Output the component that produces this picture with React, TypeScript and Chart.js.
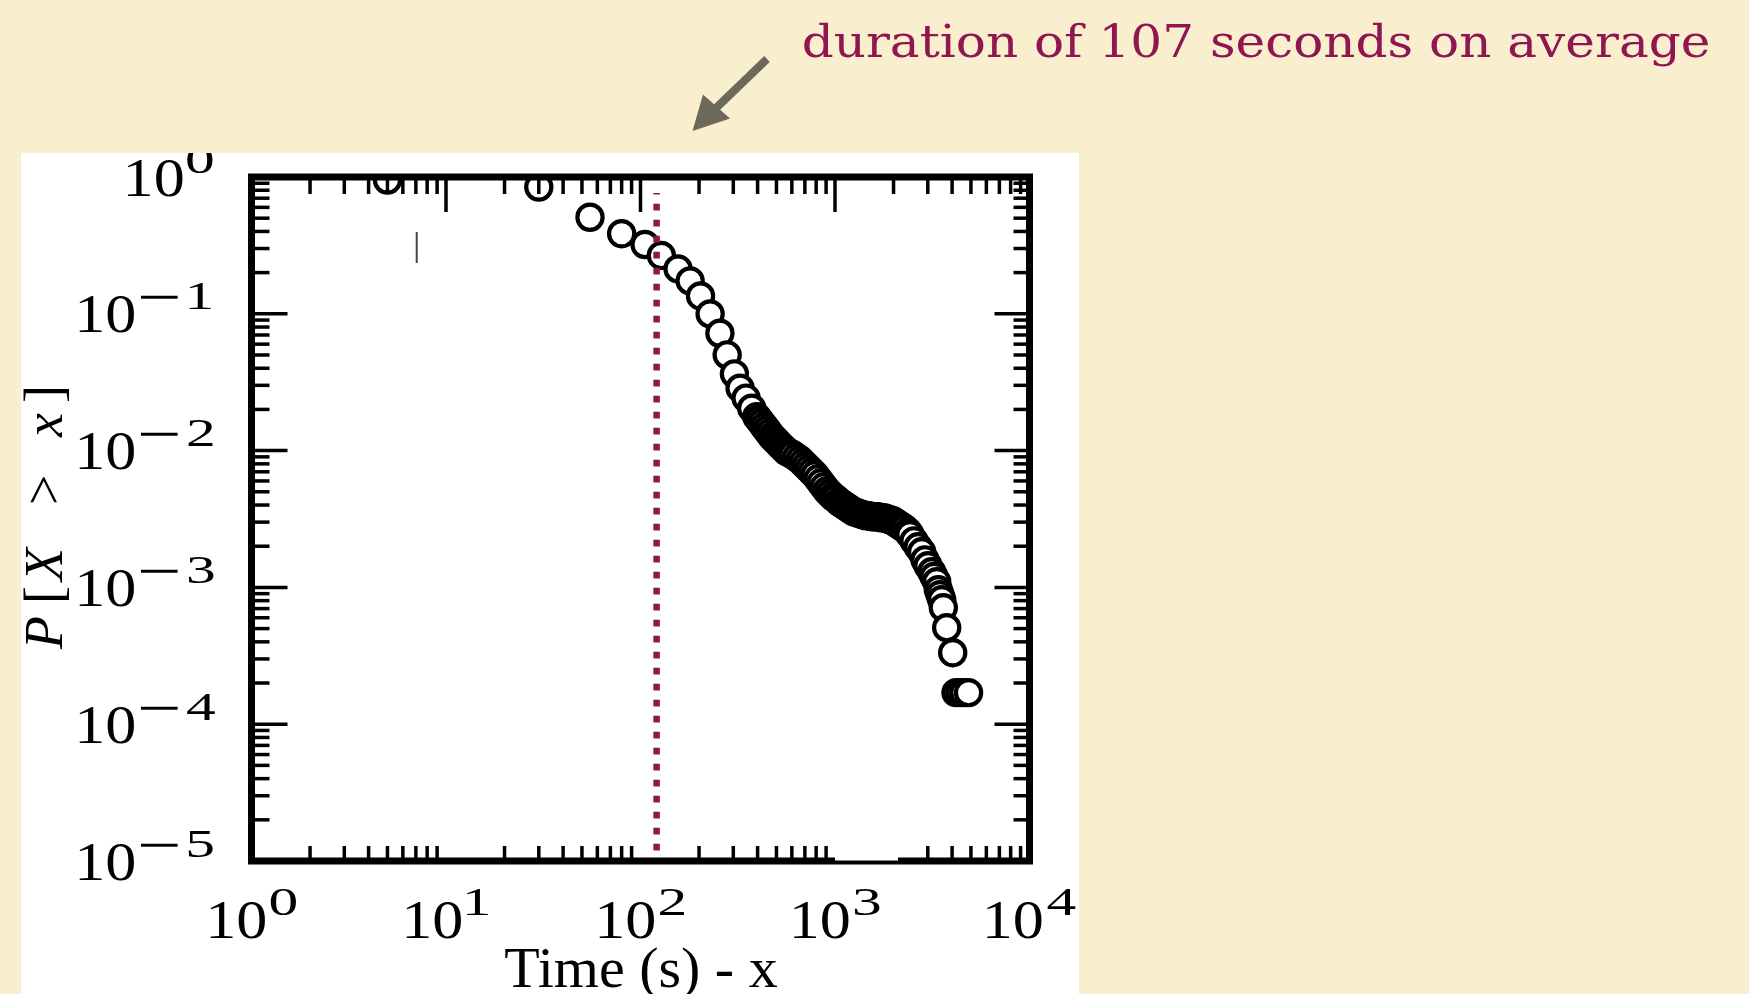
import React, { useEffect, useRef } from 'react';
import { Chart, registerables } from 'chart.js';

Chart.register(...registerables);

// ---- data ----
const durations = [
  5, 30, 55, 80, 105.5, 128, 156, 180, 203.5, 228, 256, 279, 304, 325, 349, 373,
  396, 407.6, 420, 432.5, 446, 458.9, 473, 486.8, 501, 516.6, 532, 548.1, 565, 585.8, 608, 633.9,
  660.9, 684.8, 709.7, 735.3, 761.9, 789.4, 817.9, 847.5, 878.1, 909.9, 942.6, 976.6, 1011.9, 1048.5,
  1086.4, 1125.6, 1166.3, 1208.4, 1252.1, 1297.3, 1344.1, 1392.7, 1443, 1495.3, 1549.3, 1605.3, 1663.3,
  1723.3, 1785.7, 1850.1, 1917.1, 1986.3, 2058, 2132.5, 2209.5, 2289.4, 2372.1,
  2430, 2548, 2672, 2791, 2901, 3007, 3142, 3228, 3334, 3398, 3467, 3537, 3605, 3752, 4029,
  4190, 4390, 4600, 4860,
];
const ccdf = [
  0.951, 0.845, 0.508, 0.385, 0.321, 0.267, 0.213, 0.174, 0.135, 0.0998, 0.0721, 0.0501, 0.0364, 0.0286, 0.0242, 0.0204,
  0.0177, 0.01679, 0.0159, 0.015, 0.0142, 0.01342, 0.0127, 0.01216, 0.0117, 0.01117, 0.0107, 0.01027, 0.00985, 0.009588, 0.00932, 0.008935,
  0.008566, 0.008145, 0.007744, 0.007363, 0.007001, 0.006656, 0.006224, 0.005818, 0.00544, 0.005086, 0.004836, 0.004598, 0.004446, 0.004227,
  0.004087, 0.003952, 0.003821, 0.003694, 0.003572, 0.003512, 0.003454, 0.003396, 0.003339, 0.003339, 0.003284, 0.003284, 0.003284,
  0.003229, 0.003229, 0.003175, 0.003122, 0.00307, 0.002969, 0.002871, 0.002776, 0.002684, 0.002551,
  0.00243, 0.00219, 0.00198, 0.00182, 0.00159, 0.00144, 0.0013, 0.0012, 0.0011, 0.000962, 0.000885, 0.000813, 0.000711, 0.000508, 0.000333,
  0.00017, 0.00017, 0.00017, 0.00017,
];

const meanDuration = 121;
const meanLineRange = [0.764, 1e-5];

const xMajorTicks = [1, 10, 100, 1000, 10000];
const xTickExponents = ['0', '1', '2', '3', '4'];
const yMajorTicks = [1, 0.1, 0.01, 0.001, 0.0001, 0.00001];
const yTickExponents = ['0', '−1', '−2', '−3', '−4', '−5'];
const minorMultipliers = [2, 3, 4, 5, 6, 7, 8, 9];

const titleText = 'duration of 107 seconds on average';
const xAxisTitle = 'Time (s) - x';

const CREAM = '#f9efcf';
const CRIMSON = '#8f1651';
const ARROW = '#6c685a';

const BASE_FONT = "54px 'Liberation Serif'";
const BASE_SX = 1.15;
const SUP_FONT = "41px 'Liberation Serif'";
const SUP_SX = 1.45;
const MINUS_FONT = "38px 'DejaVu Serif'";
const MINUS_W = 37;

function ink(ctx: CanvasRenderingContext2D, text: string, font: string) {
  ctx.font = font;
  const m = ctx.measureText(text);
  return {
    l: m.actualBoundingBoxLeft,
    r: m.actualBoundingBoxRight,
    a: m.actualBoundingBoxAscent,
    d: m.actualBoundingBoxDescent,
    w: m.actualBoundingBoxLeft + m.actualBoundingBoxRight,
  };
}

function drawInk(ctx: CanvasRenderingContext2D, text: string, font: string, sx: number, inkLeft: number, baseline: number) {
  const b = ink(ctx, text, font);
  ctx.save();
  ctx.font = font;
  ctx.translate(inkLeft, baseline);
  ctx.scale(sx, 1);
  ctx.fillText(text, b.l, 0);
  ctx.restore();
}

const slidePlugin = {
  id: 'slide',
  beforeDraw(chart: any) {
    const ctx = chart.ctx as CanvasRenderingContext2D;
    ctx.save();
    ctx.fillStyle = CREAM;
    ctx.fillRect(0, 0, chart.width, chart.height);
    ctx.fillStyle = '#ffffff';
    ctx.fillRect(21, 153, 1058, 841);
    ctx.restore();
  },
  afterDatasetsDraw(chart: any) {
    const ctx = chart.ctx as CanvasRenderingContext2D;
    const xs = chart.scales.x;
    const ys = chart.scales.y;
    const { left, right, top, bottom } = chart.chartArea;

    ctx.save();
    ctx.strokeStyle = '#000';
    ctx.lineCap = 'butt';
    ctx.lineWidth = 3.5;
    const line = (x1: number, y1: number, x2: number, y2: number) => {
      ctx.beginPath();
      ctx.moveTo(x1, y1);
      ctx.lineTo(x2, y2);
      ctx.stroke();
    };
    // minor / major ticks, pointing inward
    xMajorTicks.slice(0, -1).forEach((d) => {
      minorMultipliers.forEach((m) => {
        const px = xs.getPixelForValue(m * d);
        line(px, top, px, top + 17);
        line(px, bottom, px, bottom - 15);
      });
    });
    xMajorTicks.slice(1, -1).forEach((v) => {
      const px = xs.getPixelForValue(v);
      line(px, top, px, top + 35);
    });
    yMajorTicks.slice(1).forEach((d) => {
      minorMultipliers.forEach((m) => {
        const py = ys.getPixelForValue(m * d);
        line(left, py, left + 18, py);
        line(right, py, right - 16, py);
      });
    });
    yMajorTicks.slice(1, -1).forEach((v) => {
      const py = ys.getPixelForValue(v);
      line(left, py, left + 36, py);
      line(right, py, right - 35, py);
    });

    // frame
    ctx.lineWidth = 7;
    ctx.lineJoin = 'miter';
    ctx.strokeRect(left, top, right - left, bottom - top);

    // white blemish on the bottom axis
    ctx.fillStyle = '#ffffff';
    ctx.fillRect(835, 838, 63, 22.5);

    // stray mark inside the plot
    ctx.strokeStyle = '#444';
    ctx.lineWidth = 2;
    line(416.7, 232, 416.7, 263);

    // tick labels (clipped to the white panel)
    ctx.save();
    ctx.beginPath();
    ctx.rect(21, 153, 1058, 841);
    ctx.clip();
    ctx.fillStyle = '#000';
    ctx.textAlign = 'left';
    ctx.textBaseline = 'alphabetic';
    yMajorTicks.forEach((v, i) => {
      const py = ys.getPixelForValue(v);
      const baseBaseline = py + 18.5;
      const supBaseline = baseBaseline - 23;
      const exp = yTickExponents[i];
      const hasMinus = exp.startsWith('−');
      const digit = hasMinus ? exp.slice(1) : exp;
      const dw = ink(ctx, digit, SUP_FONT).w * SUP_SX;
      const bw = ink(ctx, '10', BASE_FONT).w * BASE_SX;
      if (hasMinus) {
        drawInk(ctx, digit, SUP_FONT, SUP_SX, 200.5 - dw / 2, supBaseline);
        const mb = ink(ctx, '−', MINUS_FONT);
        const msx = MINUS_W / mb.w;
        const centerY = supBaseline - 12;
        drawInk(ctx, '−', MINUS_FONT, msx, 141, centerY + (mb.a - mb.d) / 2);
        drawInk(ctx, '10', BASE_FONT, BASE_SX, 134 - bw, baseBaseline);
      } else {
        const supLeft = 212.5 - dw;
        drawInk(ctx, digit, SUP_FONT, SUP_SX, supLeft, supBaseline);
        drawInk(ctx, '10', BASE_FONT, BASE_SX, supLeft - 4 - bw, baseBaseline);
      }
    });
    xMajorTicks.forEach((v, i) => {
      const px = xs.getPixelForValue(v);
      const bw = ink(ctx, '10', BASE_FONT).w * BASE_SX;
      const dw = ink(ctx, xTickExponents[i], SUP_FONT).w * SUP_SX;
      const total = bw + 5 + dw;
      const l = px + 1.5 - total / 2;
      drawInk(ctx, '10', BASE_FONT, BASE_SX, l, 938.3);
      drawInk(ctx, xTickExponents[i], SUP_FONT, SUP_SX, l + bw + 5, 915);
    });

    // x axis title
    ctx.font = "58px 'Liberation Serif'";
    ctx.textAlign = 'center';
    ctx.fillText(xAxisTitle, 641, 987);

    // y axis title  P[X > x]
    ctx.save();
    ctx.translate(61.5, 650);
    ctx.rotate(-Math.PI / 2);
    ctx.textAlign = 'left';
    const IT = "italic 54px 'Liberation Serif'";
    const RG = "54px 'Liberation Serif'";
    const pieces: [string, string, number][] = [
      ['P', IT, 0],
      ['[', RG, 50],
      ['X', IT, 67],
      ['>', RG, 147],
      ['x', IT, 212],
      [']', RG, 248],
    ];
    pieces.forEach(([t, f, u]) => {
      const b = ink(ctx, t, f);
      ctx.font = f;
      ctx.fillText(t, u + b.l, 0);
    });
    ctx.restore();
    ctx.restore();

    // slide title
    ctx.save();
    ctx.fillStyle = CRIMSON;
    ctx.textAlign = 'left';
    const tf = "44px 'DejaVu Serif'";
    const tb = ink(ctx, titleText, tf);
    ctx.font = tf;
    ctx.translate(804, 56.7);
    ctx.scale(904 / tb.w, 1);
    ctx.fillText(titleText, tb.l, 0);
    ctx.restore();

    // arrow
    ctx.strokeStyle = ARROW;
    ctx.fillStyle = ARROW;
    ctx.lineWidth = 8;
    ctx.lineCap = 'butt';
    line(767, 59, 714, 110);
    ctx.beginPath();
    ctx.moveTo(692.5, 131);
    ctx.lineTo(703, 94.5);
    ctx.lineTo(730, 118.5);
    ctx.closePath();
    ctx.fill();

    ctx.restore();
  },
};

export default function App() {
  const ref = useRef<HTMLCanvasElement | null>(null);
  useEffect(() => {
    const canvas = ref.current;
    if (!canvas) return;
    const chart = new Chart(canvas, {
      type: 'scatter',
      data: {
        datasets: [
          {
            label: 'mean duration',
            data: [
              { x: meanDuration, y: meanLineRange[0] },
              { x: meanDuration, y: meanLineRange[1] },
            ],
            showLine: true,
            pointRadius: 0,
            borderColor: CRIMSON,
            borderWidth: 6.5,
            borderDash: [6.7, 9.3],
            borderDashOffset: 5.2,
            borderCapStyle: 'butt',
            order: 0,
            clip: 0,
          } as any,
          {
            label: 'P[X > x]',
            data: durations.map((x, i) => ({ x, y: ccdf[i] })),
            pointRadius: 12.6,
            pointBorderWidth: 4.2,
            pointBackgroundColor: '#ffffff',
            pointBorderColor: '#000000',
            backgroundColor: '#ffffff',
            borderColor: '#000000',
            borderWidth: 4.2,
            showLine: false,
            order: 1,
            clip: 0,
          } as any,
        ],
      },
      options: {
        responsive: false,
        animation: false,
        devicePixelRatio: 1,
        events: [],
        layout: { padding: { left: 251.5, right: 719.5, top: 177, bottom: 133 } },
        scales: {
          x: { type: 'logarithmic', min: 1, max: 10000, display: false },
          y: { type: 'logarithmic', min: 1e-5, max: 1, display: false },
        },
        plugins: { legend: { display: false }, tooltip: { enabled: false } },
      } as any,
      plugins: [slidePlugin],
    });
    return () => chart.destroy();
  }, []);
  return (
    <div style={{ position: 'fixed', left: 0, top: 0, width: 1749, height: 994, overflow: 'hidden' }}>
      <canvas ref={ref} width={1749} height={994} style={{ display: 'block' }} />
    </div>
  );
}
